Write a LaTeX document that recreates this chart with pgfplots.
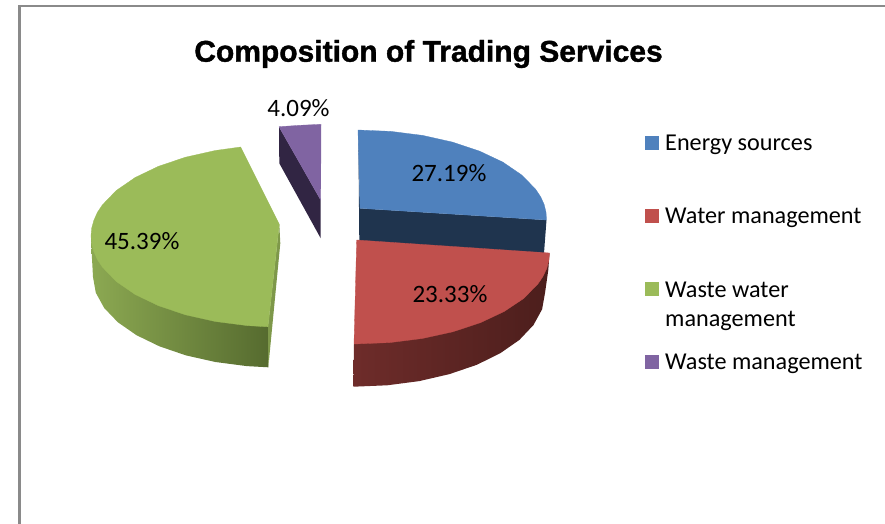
\documentclass[border=0pt]{standalone}
\usepackage{pgfplots}
\pgfplotsset{compat=1.18}
\usepackage{fontspec}
\setmainfont{Carlito}
\newfontfamily\titlefont{Liberation Sans}[BoldFeatures={FakeBold=1.2}]
\definecolor{cBlue}{HTML}{4F81BD}
\definecolor{cBlueD}{HTML}{1F344E}
\definecolor{cRed}{HTML}{C0504D}
\definecolor{cRedL}{HTML}{6E2C2A}
\definecolor{cRedD}{HTML}{4C1E1C}
\definecolor{cGreen}{HTML}{9BBB59}
\definecolor{cGreenL}{HTML}{8CA952}
\definecolor{cGreenD}{HTML}{566B2F}
\definecolor{cPurple}{HTML}{8064A2}
\definecolor{cPurpleD}{HTML}{312543}
\begin{document}
\begin{tikzpicture}
\begin{axis}[
  scale only axis, width=885pt, height=524pt,
  xmin=0, xmax=885, ymin=0, ymax=524, y dir=reverse,
  xtick=\empty, ytick=\empty, axis line style={draw=none},
  clip=true,
  every node/.style={text=black!88},
]
% frame
\addplot[draw=black!46, line width=2.2pt] coordinates {(895,6.3) (19.5,6.3) (19.5,534)};
% purple: side then top
\addplot[fill=cPurpleD, draw=none] coordinates {(279,126.7) (279.3,163.3) (320.7,238.3) (320.7,200)} --cycle;
\addplot[fill=cPurple, draw=cPurple, line width=.3pt] coordinates {(279,126.7) (300,125.3) (321,124.3) (320.7,200)} --cycle;
% green sides
\addplot[left color=cGreenL, right color=cGreenD, draw=none] coordinates {(91,236) (91.7,253) (93,277) (95.8,292.7) (104.2,308) (117.9,322.3) (136.5,335.2) (159.4,346.3) (186,355.4) (215.4,362) (246.7,366.1) (268.3,367.3) (268,320) (200,300) (100,240)} --cycle;
\addplot[fill=cGreenL!90!black, draw=none] coordinates {(279.3,224.3) (280.3,243.3) (268.3,367.3) (268,326)} --cycle;
% green top
\addplot[fill=cGreen, draw=cGreen, line width=.3pt] coordinates {(240.7,147) (215.4,150.5) (185.5,157.2) (158.5,166.3) (135.2,177.5) (116.3,190.5) (102.4,204.9) (97.4,212.4) (93.9,220.2) (91.7,228.1) (91,236) (91.7,243.9) (93.9,251.8) (97.4,259.6) (102.4,267.1) (116.3,281.5) (135.2,294.5) (158.5,305.7) (185.5,314.8) (215.4,321.5) (247.2,325.6) (268,326.8) (279.3,224.3)} --cycle;
% blue side then top
\addplot[fill=cBlueD, draw=none] coordinates {(358.3,130) (360,208.3) (546.5,220) (544,253) (360.3,241) (359.3,241)} --cycle;
\addplot[fill=cBlue, draw=cBlue, line width=.3pt] coordinates {(358,130) (390.8,131.4) (422.6,135.4) (452.5,142.1) (479.5,151.1) (502.8,162.1) (521.7,175) (535.6,189.2) (540.6,196.7) (544.1,204.4) (546,212.2) (546.5,220) (360,208.3)} --cycle;
% red side then top
\addplot[left color=cRedL, middle color=cRedD, right color=cRedD, draw=none] coordinates {(354,344) (353.3,386.7) (387.2,385.3) (419.3,381.1) (449.5,374.1) (476.8,364.8) (500.3,353.2) (519.4,339.9) (533.5,325) (542.1,309.3) (545,293) (548.3,270) (549.5,253) (500,300) (420,330)} --cycle;
\addplot[fill=cRed, draw=cRed, line width=.3pt] coordinates {(356.7,240) (549.5,253) (548.8,260.9) (546.6,268.8) (542.9,276.6) (537.8,284.1) (523.6,298.5) (504.2,311.5) (480.4,322.7) (452.8,331.8) (422.2,338.5) (389.6,342.6) (354,344)} --cycle;
% data labels
\node[font=\fontsize{25}{27}\selectfont] at (axis cs:449,173) {27.19\%};
\node[font=\fontsize{25}{27}\selectfont] at (axis cs:450,294) {23.33\%};
\node[font=\fontsize{25}{27}\selectfont] at (axis cs:142,241) {45.39\%};
\node[font=\fontsize{25}{27}\selectfont] at (axis cs:298.5,108) {4.09\%};
% title
\node[font=\titlefont\bfseries\fontsize{30}{32}\selectfont, text=black] at (axis cs:428.5,54) {Composition of Trading Services};
% legend swatches
\addplot[fill=cBlue, draw=none] coordinates {(645,136) (659,136) (659,150) (645,150)} --cycle;
\addplot[fill=cRed, draw=none] coordinates {(645,209) (659,209) (659,223) (645,223)} --cycle;
\addplot[fill=cGreen, draw=none] coordinates {(645,282) (659,282) (659,296) (645,296)} --cycle;
\addplot[fill=cPurple, draw=none] coordinates {(645,355) (659,355) (659,369) (645,369)} --cycle;
% legend text
\node[anchor=west, inner sep=0pt, font=\fontsize{24.2}{26}\selectfont] at (axis cs:665,144.5) {Energy sources};
\node[anchor=west, inner sep=0pt, font=\fontsize{24.2}{26}\selectfont] at (axis cs:665,217.5) {Water management};
\node[anchor=west, inner sep=0pt, font=\fontsize{24.2}{26}\selectfont] at (axis cs:665,289.5) {Waste water};
\node[anchor=west, inner sep=0pt, font=\fontsize{24.2}{26}\selectfont] at (axis cs:665,320.5) {management};
\node[anchor=west, inner sep=0pt, font=\fontsize{24.2}{26}\selectfont] at (axis cs:665,363.5) {Waste management};
\end{axis}
\end{tikzpicture}
\end{document}
